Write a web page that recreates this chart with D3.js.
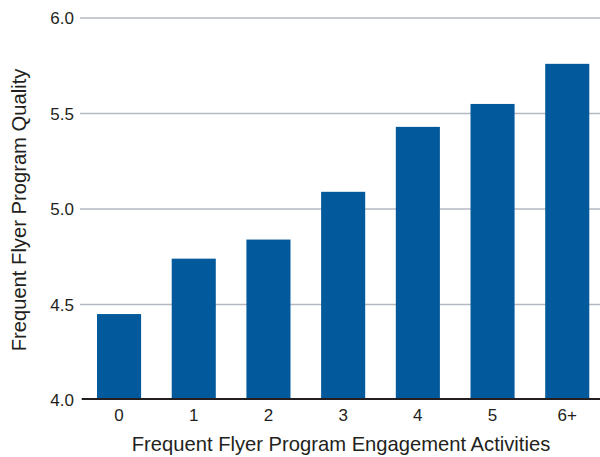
<!DOCTYPE html>
<html><head><meta charset="utf-8">
<script src="https://cdn.jsdelivr.net/npm/d3@7"></script>
<style>body{margin:0;background:#fff}svg{display:block}text{font-family:"Liberation Sans",Arial,sans-serif;fill:#231f20}</style>
</head><body>
<script>
const categories = ["0","1","2","3","4","5","6+"];
const values = [4.45, 4.74, 4.84, 5.09, 5.43, 5.55, 5.76];
const yTicks = [4.0, 4.5, 5.0, 5.5, 6.0];
const xTitle = "Frequent Flyer Program Engagement Activities";
const yTitle = "Frequent Flyer Program Quality";

const W = 600, H = 457;
const svg = d3.select("body").append("svg").attr("width", W).attr("height", H);

const y = d3.scaleLinear().domain([4, 6]).range([400, 18]);
const x = d3.scaleBand().domain(categories).range([81.7, 604.6]).paddingInner(0.41).paddingOuter(0.205);

// gridlines
svg.append("g").selectAll("line").data(yTicks.filter(d => d > 4)).join("line")
  .attr("x1", 80).attr("x2", 600)
  .attr("y1", d => y(d)).attr("y2", d => y(d))
  .attr("stroke", "#b4b8c0").attr("stroke-width", 1.6);

// y tick labels
svg.append("g").selectAll("text").data(yTicks).join("text")
  .attr("x", 74).attr("y", d => y(d) + 6)
  .attr("text-anchor", "end").attr("font-size", 17)
  .text(d => d.toFixed(1));

// bars
svg.append("g").selectAll("rect").data(values).join("rect")
  .attr("x", (d, i) => x(categories[i]))
  .attr("width", x.bandwidth())
  .attr("y", d => y(d))
  .attr("height", d => y(4) - y(d))
  .attr("fill", "#02599c");

// baseline
svg.append("line").attr("x1", 81.7).attr("x2", 600)
  .attr("y1", 399).attr("y2", 399)
  .attr("stroke", "#231f20").attr("stroke-width", 2.2);

// x tick labels
svg.append("g").selectAll("text").data(categories).join("text")
  .attr("x", d => x(d) + x.bandwidth() / 2).attr("y", 421)
  .attr("text-anchor", "middle").attr("font-size", 17)
  .text(d => d);

// axis titles
svg.append("text").attr("x", 341).attr("y", 451)
  .attr("text-anchor", "middle").attr("font-size", 20.2).text(xTitle);
svg.append("text").attr("transform", "translate(26,210) rotate(-90)")
  .attr("text-anchor", "middle").attr("font-size", 20.2).text(yTitle);
</script>
</body></html>
